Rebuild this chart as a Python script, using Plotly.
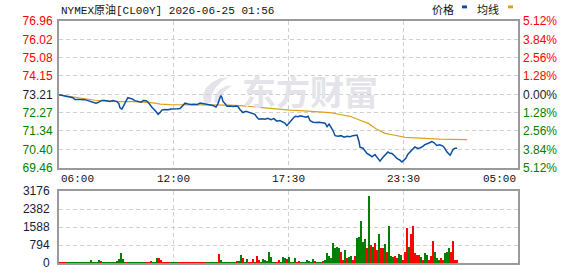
import plotly.graph_objects as go

# ---------------- data ----------------
title_text = "NYMEX原油[CL00Y] 2026-06-25 01:56"
base_price = 73.21
price_ticks = [76.96, 76.02, 75.08, 74.15, 73.21, 72.27, 71.34, 70.40, 69.46]
pct_labels = ["5.12%", "3.84%", "2.56%", "1.28%", "0.00%", "1.28%", "2.56%", "3.84%", "5.12%"]
vol_ticks = [0, 794, 1588, 2382, 3176]
time_labels = ["06:00", "12:00", "17:30", "23:30", "05:00"]
time_label_pos = [0, 345, 690, 1035, 1380]   # minutes after session open (axis positions)
session_minutes = 1380

# price (minutes after open, price)
price_min = [0, 9, 18, 27, 33, 42, 48, 57, 66, 78, 87, 96, 102, 111, 117, 123, 129, 138, 147, 153,
             162, 174, 180, 183, 189, 195, 201, 207, 213, 219, 228, 238, 247, 253, 262, 268, 274, 280, 289, 295,
             298, 304, 310, 319, 328, 337, 346, 355, 364, 370, 379, 388, 397, 406, 415, 424, 433, 442, 454, 463,
             472, 478, 484, 487, 490, 493, 499, 505, 514, 523, 532, 538, 544, 553, 562, 571, 580, 589, 595, 601,
             610, 619, 628, 637, 646, 655, 664, 673, 679, 685, 691, 697, 704, 710, 719, 725, 734, 743, 749, 755,
             764, 773, 782, 791, 800, 806, 812, 818, 824, 830, 839, 848, 857, 866, 875, 884, 890, 896, 902, 905,
             914, 920, 926, 935, 941, 950, 959, 965, 974, 980, 986, 989, 995, 1001, 1010, 1016, 1025, 1031, 1037, 1043,
             1049, 1055, 1064, 1070, 1079, 1085, 1094, 1100, 1109, 1115, 1121, 1127, 1136, 1145, 1154, 1160, 1166, 1176, 1182, 1185,
             1191, 1197]
price_val = [73.19, 73.16, 73.14, 73.11, 73.09, 73.04, 72.95, 72.96, 72.95, 72.94, 72.89, 72.84, 72.79, 72.76, 72.79, 72.86, 72.90, 72.90, 72.86, 72.85,
             72.89, 72.84, 72.74, 72.54, 72.46, 72.64, 72.89, 73.04, 73.01, 72.99, 72.89, 72.84, 72.81, 72.90, 72.89, 72.81, 72.64, 72.54, 72.39, 72.24,
             72.19, 72.29, 72.42, 72.44, 72.42, 72.46, 72.45, 72.47, 72.49, 72.60, 72.76, 72.72, 72.69, 72.71, 72.69, 72.77, 72.74, 72.71, 72.69, 72.64,
             72.56, 72.74, 73.04, 73.15, 73.04, 72.85, 72.74, 72.60, 72.61, 72.59, 72.61, 72.59, 72.44, 72.28, 72.34, 72.29, 72.24, 72.19, 72.04, 71.94,
             71.97, 71.94, 71.99, 71.92, 71.97, 71.84, 71.87, 71.79, 71.74, 71.61, 71.74, 71.84, 71.99, 72.09, 72.07, 72.12, 72.09, 72.04, 72.09, 71.86,
             71.79, 71.77, 71.79, 71.77, 71.74, 71.56, 71.69, 71.52, 71.35, 71.10, 71.07, 71.10, 71.02, 71.07, 71.05, 71.10, 71.12, 71.13, 70.80, 70.51,
             70.46, 70.35, 70.19, 70.10, 70.02, 70.14, 69.95, 69.80, 70.00, 70.10, 70.20, 70.27, 70.20, 70.19, 70.05, 69.94, 69.85, 69.75, 69.85, 69.95,
             70.15, 70.27, 70.40, 70.52, 70.45, 70.47, 70.55, 70.64, 70.70, 70.75, 70.80, 70.75, 70.60, 70.63, 70.57, 70.45, 70.27, 70.10, 70.27, 70.40,
             70.46, 70.46]

# average price line
avg_min = [0, 18, 33, 63, 93, 108, 123, 153, 183, 228, 259, 274, 289, 304, 334, 424, 454, 514, 544, 589,
           634, 694, 725, 755, 785, 815, 845, 875, 905, 929, 953, 965, 980, 1010, 1040, 1085, 1115, 1145, 1176, 1227]
avg_val = [73.19, 73.14, 73.09, 73.01, 72.96, 72.91, 72.89, 72.86, 72.84, 72.84, 72.82, 72.79, 72.76, 72.71, 72.69, 72.69, 72.68, 72.66, 72.64, 72.56,
           72.49, 72.41, 72.38, 72.35, 72.32, 72.28, 72.18, 72.09, 71.89, 71.74, 71.45, 71.35, 71.22, 71.12, 71.01, 70.97, 70.93, 70.92, 70.91, 70.90]

# volume per 6-minute bin, and direction (r = up, g = down)
vol_bin_minutes = 6
volume = [40, 30, 40, 30, 30, 40, 30, 40, 30, 30, 40, 30, 30, 40, 30, 30, 140, 30, 40, 30,
          130, 60, 30, 40, 30, 30, 40, 30, 40, 100, 170, 430, 170, 40, 30, 40, 30, 30, 40, 30,
          30, 40, 30, 30, 40, 30, 85, 40, 30, 215, 215, 140, 40, 30, 40, 30, 40, 30, 30, 40,
          30, 40, 30, 30, 40, 30, 40, 30, 40, 30, 30, 40, 30, 40, 30, 30, 40, 30, 30, 40,
          390, 140, 40, 30, 40, 30, 40, 30, 40, 50, 60, 330, 215, 40, 170, 40, 30, 170, 40, 300,
          130, 40, 170, 150, 60, 475, 245, 40, 30, 40, 150, 40, 245, 210, 185, 260, 40, 30, 210, 40,
          100, 40, 30, 40, 130, 100, 40, 170, 100, 40, 40, 30, 60, 150, 430, 310, 210, 860, 645, 715,
          680, 500, 140, 575, 215, 270, 290, 140, 290, 1080, 1150, 1870, 935, 1040, 645, 2945, 790, 715, 890, 575,
          1290, 675, 645, 820, 470, 1610, 315, 260, 290, 215, 390, 360, 140, 475, 1550, 690, 1290, 1610, 430, 360,
          330, 245, 140, 430, 330, 140, 290, 965, 500, 215, 140, 215, 140, 430, 500, 645, 475, 965, 140, 130]
direction = ("rrrrgggggggggggggggg"
             "grggggggggggggrggggg"
             "ggggrrrgggrrrrrrgggg"
             "rrrrrrrrrrrrrrgggggg"
             "rggggggggrggrggrrrgr"
             "rggggggggrrgggrggggr"
             "rgggggggrgggrggggggg"
             "grrgrggrrgggggrgrgrr"
             "grrgrgggrrggrrrgrrrr"
             "rgrggrrrgggrrgggrrrr")

# ---------------- styling ----------------
RED = "#ff0000"
GREEN = "#008000"
DARK = "#1a1a2e"
BLUE = "#0b4f9e"
GOLD = "#dba11c"
GRID = "#d0d0d0"
FRAME = "#9a9a9a"
WM = "#e3e3e9"
NUM_FONT = "Liberation Sans, Arial, sans-serif"
MONO_FONT = "Liberation Mono, DejaVu Sans Mono, monospace"
CJK_FONT = "Noto Sans CJK SC, sans-serif"

W, H = 578, 276
L, R, T, B = 59, 60, 21, 6
main_dom = [0.3936, 1.0]
vol_dom = [0.0, 0.2972]
pw, ph = W - L - R, H - T - B


def px(x):
    return (x - L) / pw


def py(y):
    return (H - B - y) / ph


def col_for(v):
    if v > base_price + 1e-9:
        return RED
    if v < base_price - 1e-9:
        return GREEN
    return DARK


left_text = ['<span style="color:%s">%.2f</span>' % (col_for(v), v) for v in price_ticks]
right_text = ['<span style="color:%s">%s</span>' % (col_for(v), t) for v, t in zip(price_ticks, pct_labels)]

vol_x = [i * vol_bin_minutes for i in range(len(volume))]
vol_colors = [RED if d == "r" else GREEN for d in direction]

fig = go.Figure()
fig.add_trace(go.Scatter(x=avg_min, y=avg_val, mode="lines", line=dict(color=GOLD, width=1.2),
                         hoverinfo="skip", showlegend=False))
fig.add_trace(go.Scatter(x=price_min, y=price_val, mode="lines", line=dict(color=BLUE, width=1.5),
                         hoverinfo="skip", showlegend=False))
fig.add_trace(go.Scatter(x=[price_min[0]], y=[price_val[0]], yaxis="y3", mode="markers",
                         marker=dict(opacity=0), hoverinfo="skip", showlegend=False))
fig.add_trace(go.Bar(x=vol_x, y=volume, xaxis="x2", yaxis="y2", marker=dict(color=vol_colors, line=dict(width=0)),
                     width=vol_bin_minutes * 0.75, offset=0, hoverinfo="skip", showlegend=False))

grid_common = dict(showgrid=True, gridcolor=GRID, griddash="4px,3px", gridwidth=1, zeroline=False,
                   showline=True, linecolor=FRAME, linewidth=2, mirror=True, ticks="")

fig.update_layout(
    width=W, height=H, margin=dict(l=L, r=R, t=T, b=B), autosize=False,
    paper_bgcolor="white", plot_bgcolor="white", bargap=0,
    xaxis=dict(domain=[0, 1], range=[0, session_minutes], tickvals=time_label_pos[1:-1], showticklabels=False,
               anchor="y", **grid_common),
    yaxis=dict(domain=main_dom, range=[price_ticks[-1], price_ticks[0]], tickvals=price_ticks, ticktext=left_text,
               tickfont=dict(family=NUM_FONT, size=12), anchor="x", ticklabelstandoff=2, **grid_common),
    yaxis3=dict(overlaying="y", side="right", range=[price_ticks[-1], price_ticks[0]], tickvals=price_ticks,
                ticktext=right_text, tickfont=dict(family=NUM_FONT, size=12), showgrid=False, zeroline=False,
                showline=False, ticks="", anchor="x", ticklabelstandoff=4),
    xaxis2=dict(domain=[0, 1], range=[0, session_minutes], tickvals=time_label_pos[1:-1], showticklabels=False,
                anchor="y2", matches="x", **grid_common),
    yaxis2=dict(domain=vol_dom, range=[vol_ticks[0], vol_ticks[-1]], tickvals=vol_ticks,
                tickfont=dict(family=NUM_FONT, size=12, color="#1a1a3a"), anchor="x2", ticklabelstandoff=5,
                **grid_common),
)

annotations = []
# watermark
annotations.append(dict(xref="paper", yref="paper", x=px(310), y=py(92.5),
                        xanchor="center", yanchor="middle", text="<b>东方财富</b>", showarrow=False,
                        font=dict(family=CJK_FONT, size=34, color=WM)))
# title
annotations.append(dict(xref="paper", yref="paper", x=0, y=1, xanchor="left", yanchor="bottom", yshift=2,
                        text=title_text, showarrow=False,
                        font=dict(family=MONO_FONT + ", " + CJK_FONT, size=11, color="#111111")))
# time labels
for i, (pos, lab) in enumerate(zip(time_label_pos, time_labels)):
    anchor = "left" if i == 0 else ("right" if i == len(time_labels) - 1 else "center")
    annotations.append(dict(xref="x", yref="paper", x=pos, y=main_dom[0], xanchor=anchor, yanchor="top",
                            yshift=-3, text=lab, showarrow=False,
                            font=dict(family=MONO_FONT, size=11, color="#111111")))
# legend labels
annotations.append(dict(xref="paper", yref="paper", x=px(442.5), y=py(8.5),
                        xanchor="center", yanchor="middle", text="价格", showarrow=False,
                        font=dict(family=CJK_FONT, size=11, color="#111111")))
annotations.append(dict(xref="paper", yref="paper", x=px(487.5), y=py(8.5),
                        xanchor="center", yanchor="middle", text="均线", showarrow=False,
                        font=dict(family=CJK_FONT, size=11, color="#111111")))
fig.update_layout(annotations=annotations)


def path(points):
    s = "M %f,%f" % (px(points[0][0]), py(points[0][1]))
    for p in points[1:]:
        s += " L %f,%f" % (px(p[0]), py(p[1]))
    return s + " Z"


# faint watermark logo (flame-like swoosh)
logo1 = path([(204, 105), (203, 97), (206, 90), (212, 84), (220, 80), (228, 79), (222, 83), (216, 89),
              (212, 96), (211, 105)])
logo2 = path([(214, 105), (215, 98), (219, 92), (226, 88), (232, 87), (226, 92), (221, 98), (219, 105)])

fig.update_layout(shapes=[
    dict(type="path", xref="paper", yref="paper", path=logo1, fillcolor=WM, line=dict(width=0), layer="below"),
    dict(type="path", xref="paper", yref="paper", path=logo2, fillcolor=WM, line=dict(width=0), layer="below"),
    dict(type="rect", xref="paper", yref="paper", x0=px(462), x1=px(467), y0=py(8), y1=py(5),
         fillcolor=BLUE, line=dict(width=0)),
    dict(type="rect", xref="paper", yref="paper", x0=px(508), x1=px(513), y0=py(8), y1=py(5),
         fillcolor=GOLD, line=dict(width=0)),
])

fig.write_html("out.html")
